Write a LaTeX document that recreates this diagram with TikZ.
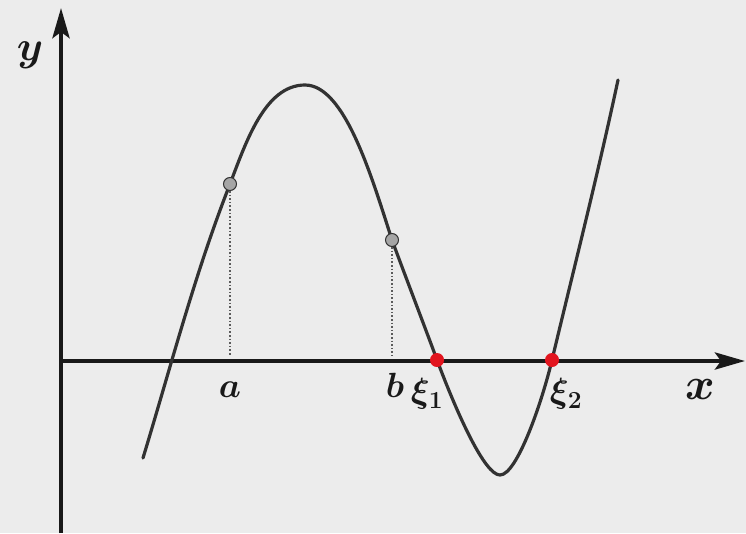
\documentclass[tikz,border=0pt]{standalone}
\usepackage{fix-cm}
\usepackage{bm}
\usetikzlibrary{arrows.meta}
\definecolor{bgcol}{RGB}{236,236,236}
\definecolor{axcol}{RGB}{25,25,25}
\definecolor{curvecol}{RGB}{50,50,50}
\definecolor{ptfill}{RGB}{165,165,165}
\definecolor{rootred}{RGB}{226,20,30}
\begin{document}
\begin{tikzpicture}[x=1pt,y=-1pt,
  axis/.style={line width=4.5pt,color=axcol,-{Stealth[length=30pt,width=17pt,inset=6pt]}},
  curve/.style={line width=3.2pt,color=curvecol,line cap=round,line join=round},
  guide/.style={line width=1.6pt,color=curvecol!80,dotted},
  graypt/.style={circle,inner sep=0pt,minimum size=13pt,fill=ptfill,draw=curvecol,line width=1pt},
  redpt/.style={circle,inner sep=0pt,minimum size=14pt,fill=rootred},
  lbl/.style={inner sep=0pt,text=axcol,font=\fontsize{35}{37}\selectfont}]
\fill[bgcol] (0,0) rectangle (746,533);
\useasboundingbox (0,0) rectangle (746,533);
% axes
\coordinate (ybot) at (61,533);
\coordinate (ytop) at (61,8);
\coordinate (xleft) at (59,361);
\coordinate (xright) at (745,361);
\draw[axis] (xleft) -- (xright);
\draw[axis] (ybot) -- (ytop);
% curve
\coordinate (c0) at (143,458);
\coordinate (ca) at (230,184);
\coordinate (cmax) at (305,85);
\coordinate (cb) at (392,240);
\coordinate (cx1) at (437,360);
\coordinate (cmin) at (500,475);
\coordinate (cx2) at (552,360);
\coordinate (cend) at (618,80);
\draw[curve] (c0) .. controls (171,366) and (195,273) .. (ca)
  .. controls (246,142) and (265,85) .. (cmax)
  .. controls (345,85) and (372,178) .. (cb)
  .. controls (397,254) and (432,346) .. (cx1)
  .. controls (458,416) and (485,475) .. (cmin)
  .. controls (517,475) and (542,402) .. (cx2)
  .. controls (573,272) and (597,178) .. (cend);
% guides
\coordinate (afoot) at (230,356);
\coordinate (bfoot) at (392,356);
\node[graypt] (A) at (ca) {};
\node[graypt] (B) at (cb) {};
\draw[guide] (A) -- (afoot);
\draw[guide] (B) -- (bfoot);
% roots
\node[redpt] (X1) at (cx1) {};
\node[redpt] (X2) at (cx2) {};
% labels
\node[lbl,font=\fontsize{42}{44}\selectfont] (ylab) at (30,55) {$\bm{y}$};
\node[lbl,font=\fontsize{45}{47}\selectfont] (xlab) at (700,389) {$\bm{x}$};
\node[lbl] (alab) at (230,390) {$\bm{a}$};
\node[lbl] (blab) at (395,385) {$\bm{b}$};
\node[lbl] (x1lab) at (427,394) {$\bm{\xi}_{\mathbf{1}}$};
\node[lbl] (x2lab) at (566,394) {$\bm{\xi}_{\mathbf{2}}$};
\end{tikzpicture}
\end{document}
